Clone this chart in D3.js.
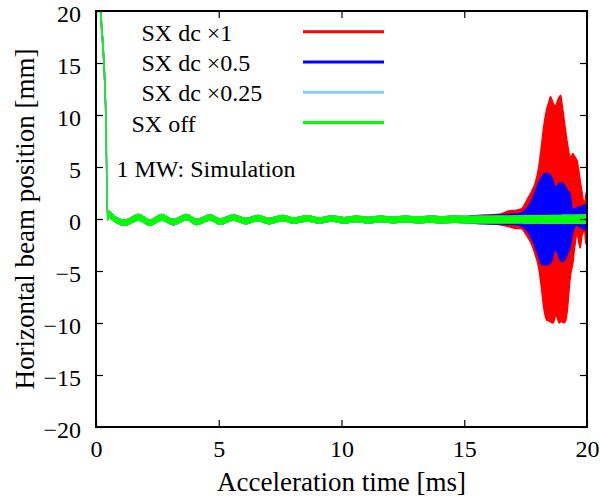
<!DOCTYPE html>
<html><head><meta charset="utf-8">
<script src="https://cdn.jsdelivr.net/npm/d3@7"></script>
<style>body{margin:0;background:#fff}</style>
</head><body><svg id="c" width="600" height="500"></svg>
<script>
// ---------- data ----------
const xTicks = [0, 5, 10, 15, 20];
const yTicks = [-20, -15, -10, -5, 0, 5, 10, 15, 20];
const seriesNames = ["SX dc \u00d71", "SX dc \u00d70.5", "SX dc \u00d70.25", "SX off"];
const seriesColors = ["#ff0000", "#0000ff", "#87ceeb", "#00ff00"];
const annotation = "1 MW: Simulation";
const xTitle = "Acceleration time [ms]";
const yTitle = "Horizontal beam position [mm]";

// common part (0 - 15.1 ms), all four cases overlap here: envelope upper / lower [mm]
const earlyTime  = [0, 0.19, 0.4, 0.47, 0.52, 0.62, 0.8, 1.18, 1.73, 2.2, 2.68, 3.14, 3.7, 4.1, 4.65, 5.06, 5.6, 6.1, 6.6, 7.05, 7.6, 8.05, 8.6, 9.1, 9.6, 10.1, 10.6, 11.1, 11.6, 12.1, 12.6, 13.1, 13.6, 14.1, 14.6, 15.1];
const earlyUpper = [29, 20.3, 10.3, 0.5, 0.75, 0.55, 0.2, -0.1, 0.45, -0.1, 0.45, -0.05, 0.44, -0.05, 0.4, 0.0, 0.4, 0.05, 0.35, 0.05, 0.34, 0.1, 0.32, 0.1, 0.3, 0.14, 0.28, 0.16, 0.28, 0.18, 0.27, 0.2, 0.27, 0.22, 0.27, 0.25];
const earlyLower = [28.4, 19.7, 9.7, -0.1, 0.2, 0.0, -0.3, -0.62, -0.1, -0.62, -0.1, -0.56, -0.05, -0.55, -0.1, -0.52, -0.1, -0.47, -0.15, -0.46, -0.15, -0.42, -0.2, -0.4, -0.2, -0.38, -0.25, -0.38, -0.25, -0.37, -0.28, -0.37, -0.3, -0.37, -0.32, -0.36];

// late part (15.5 - 20 ms), per case
const lateTime   = [15.5, 16.0, 16.5, 16.8, 17.06, 17.34, 17.48, 17.61, 17.75, 17.89, 18.03, 18.14, 18.24, 18.35, 18.45, 18.51, 18.6, 18.65, 18.72, 18.8, 18.86, 18.93, 19.0, 19.06, 19.13, 19.21, 19.3, 19.36, 19.42, 19.48, 19.53, 19.6, 19.66, 19.72, 19.8, 19.85, 19.9, 19.95, 20.0];
const redUpper   = [0.35, 0.4, 0.5, 0.78, 0.82, 1.0, 1.5, 2.1, 2.7, 3.5, 5.0, 7.0, 9.0, 10.5, 11.3, 11.8, 11.3, 11.0, 10.9, 11.4, 11.7, 11.9, 10.8, 9.8, 8.5, 7.2, 6.1, 6.0, 6.3, 6.1, 5.9, 5.6, 4.8, 3.8, 2.6, 1.8, 1.6, 2.3, 3.0];
const redLower   = [-0.4, -0.45, -0.58, -0.74, -0.9, -0.95, -1.38, -1.86, -2.5, -3.46, -4.7, -6.6, -8.6, -9.7, -9.8, -9.9, -10.0, -9.9, -9.3, -9.6, -10.0, -9.9, -9.9, -10.0, -9.8, -8.6, -6.1, -5.0, -4.4, -3.2, -2.2, -1.4, -2.2, -2.8, -1.6, -1.3, -1.1, -2.4, -1.5];
const blueUpper  = [0.33, 0.35, 0.4, 0.45, 0.5, 0.6, 0.87, 1.2, 1.8, 2.6, 3.5, 4.0, 4.3, 4.4, 4.35, 4.2, 3.8, 3.4, 3.1, 3.2, 3.4, 3.5, 3.45, 3.3, 3.1, 2.7, 2.5, 1.7, 0.9, 0.95, 1.0, 1.1, 1.15, 1.2, 1.25, 1.3, 1.35, 1.4, 1.5];
const blueLower  = [-0.45, -0.48, -0.5, -0.52, -0.55, -0.7, -0.95, -1.3, -1.9, -2.7, -3.6, -4.3, -4.4, -4.4, -4.35, -4.25, -3.8, -3.2, -3.0, -3.3, -3.7, -4.0, -4.1, -4.0, -3.8, -3.3, -2.9, -2.1, -1.2, -0.9, -0.6, -0.6, -0.7, -0.8, -0.9, -1.0, -1.05, -1.0, -0.8];
const skyUpper   = [0.27, 0.27, 0.28, 0.28, 0.29, 0.29, 0.3, 0.3, 0.31, 0.31, 0.32, 0.32, 0.33, 0.33, 0.33, 0.34, 0.34, 0.34, 0.34, 0.35, 0.35, 0.35, 0.36, 0.36, 0.36, 0.36, 0.37, 0.37, 0.37, 0.37, 0.38, 0.38, 0.38, 0.38, 0.39, 0.39, 0.39, 0.4, 0.4];
const skyLower   = [-0.37, -0.37, -0.38, -0.38, -0.38, -0.38, -0.39, -0.39, -0.39, -0.39, -0.39, -0.4, -0.4, -0.4, -0.4, -0.4, -0.4, -0.4, -0.4, -0.4, -0.4, -0.4, -0.4, -0.4, -0.4, -0.4, -0.4, -0.4, -0.4, -0.4, -0.4, -0.4, -0.4, -0.4, -0.4, -0.4, -0.4, -0.4, -0.4];
const greenUpper = [0.26, 0.26, 0.27, 0.27, 0.28, 0.28, 0.28, 0.29, 0.29, 0.3, 0.3, 0.3, 0.31, 0.31, 0.31, 0.32, 0.32, 0.32, 0.32, 0.33, 0.33, 0.33, 0.34, 0.34, 0.34, 0.34, 0.35, 0.35, 0.35, 0.35, 0.36, 0.36, 0.36, 0.36, 0.37, 0.37, 0.37, 0.38, 0.38];
const greenLower = [-0.36, -0.36, -0.37, -0.37, -0.37, -0.37, -0.38, -0.38, -0.38, -0.38, -0.38, -0.38, -0.38, -0.38, -0.38, -0.38, -0.38, -0.38, -0.38, -0.38, -0.38, -0.38, -0.38, -0.38, -0.38, -0.38, -0.38, -0.38, -0.38, -0.38, -0.38, -0.38, -0.38, -0.38, -0.38, -0.38, -0.38, -0.38, -0.38];

// ---------- chart ----------
const lateUppers = [redUpper, blueUpper, skyUpper, greenUpper];
const lateLowers = [redLower, blueLower, skyLower, greenLower];
const allTime = earlyTime.concat(lateTime);
const series = seriesNames.map((name, i) => ({
  name, color: seriesColors[i],
  pts: allTime.map((t, k) => ({
    t,
    hi: earlyUpper.concat(lateUppers[i])[k],
    lo: earlyLower.concat(lateLowers[i])[k]
  }))
}));

const M = {left: 96, right: 587, top: 11, bottom: 427};
const svg = d3.select("#c");
const FONT = "'Liberation Serif', 'Times New Roman', serif";

const x = d3.scaleLinear().domain([0, 20]).range([M.left, M.right]);
const y = d3.scaleLinear().domain([-20, 20]).range([M.bottom, M.top]);

svg.append("defs").append("clipPath").attr("id", "clip")
  .append("rect").attr("x", M.left).attr("y", M.top)
  .attr("width", M.right - M.left).attr("height", M.bottom - M.top);

const area = d3.area().curve(d3.curveMonotoneX)
  .x(d => x(d.t)).y0(d => y(d.lo)).y1(d => y(d.hi));
const g = svg.append("g").attr("clip-path", "url(#clip)");
series.forEach(s => {
  g.append("path").datum(s.pts).attr("d", area)
    .attr("fill", s.color).attr("stroke", s.color)
    .attr("stroke-width", 1.3).attr("stroke-linejoin", "round");
});

// axes (ticks inward, mirrored)
const tickLen = 7;
const axB = svg.append("g").attr("transform", `translate(0,${M.bottom})`)
  .call(d3.axisBottom(x).tickValues(xTicks).tickSize(-tickLen).tickPadding(13).tickFormat(d3.format("d")));
const axT = svg.append("g").attr("transform", `translate(0,${M.top})`)
  .call(d3.axisTop(x).tickValues(xTicks).tickSize(-tickLen).tickFormat(""));
const axL = svg.append("g").attr("transform", `translate(${M.left},0)`)
  .call(d3.axisLeft(y).tickValues(yTicks).tickSize(-tickLen).tickPadding(15).tickFormat(d3.format("d")));
const axR = svg.append("g").attr("transform", `translate(${M.right},0)`)
  .call(d3.axisRight(y).tickValues(yTicks).tickSize(-tickLen).tickFormat(""));
[axB, axT, axL, axR].forEach(a => {
  a.select(".domain").remove();
  a.selectAll(".tick line").attr("stroke", "#000").attr("stroke-width", 1.2);
  a.selectAll("text").attr("font-family", FONT).attr("font-size", 24).attr("fill", "#000");
});
axL.selectAll("text").attr("dy", "0.45em");
axB.selectAll("text").attr("dy", "0.71em");

// frame
svg.append("rect").attr("x", M.left).attr("y", M.top)
  .attr("width", M.right - M.left).attr("height", M.bottom - M.top)
  .attr("fill", "none").attr("stroke", "#000").attr("stroke-width", 2);

// titles
svg.append("text").attr("x", (M.left + M.right) / 2).attr("y", 491)
  .attr("text-anchor", "middle").attr("font-family", FONT).attr("font-size", 27)
  .text(xTitle);
svg.append("text").attr("transform", `translate(33.5,${(M.top + M.bottom) / 2}) rotate(-90)`)
  .attr("text-anchor", "middle").attr("font-family", FONT).attr("font-size", 27)
  .text(yTitle);

// legend
const legY0 = 31.7, legDY = 30.3;
const leg = svg.append("g");
series.forEach((s, i) => {
  const ly = legY0 + i * legDY;
  leg.append("line").attr("x1", 303).attr("x2", 384).attr("y1", ly).attr("y2", ly)
    .attr("stroke", s.color).attr("stroke-width", 3);
  leg.append("text").attr("x", i === 3 ? 131.5 : 141.5).attr("y", ly + 9)
    .attr("font-family", FONT).attr("font-size", 24).text(s.name);
});
svg.append("text").attr("x", 116.5).attr("y", 177)
  .attr("font-family", FONT).attr("font-size", 24).text(annotation);
</script></body></html>
